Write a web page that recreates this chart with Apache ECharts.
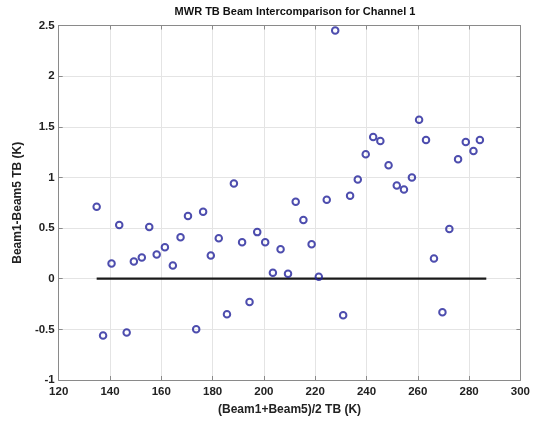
<!DOCTYPE html>
<html>
<head>
<meta charset="utf-8">
<script src="https://cdn.jsdelivr.net/npm/echarts@6/dist/echarts.min.js"></script>
<style>
  html, body { margin: 0; padding: 0; background: #fff; }
  #chart { width: 533px; height: 421px; }
</style>
</head>
<body>
<div id="chart"></div>
<script>
// Mean brightness temperature of the two beams (K)
const meanTB = [
  134.8, 137.3, 140.6, 143.6, 146.5, 149.3, 152.4, 155.3, 158.2, 161.4,
  164.5, 167.5, 170.4, 173.6, 176.3, 179.3, 182.4, 185.6, 188.3, 191.5,
  194.4, 197.4, 200.5, 203.5, 206.5, 209.4, 212.4, 215.4, 218.6, 221.4,
  224.5, 227.8, 230.9, 233.6, 236.6, 239.7, 242.6, 245.4, 248.6, 251.8,
  254.6, 257.7, 260.5, 263.2, 266.3, 269.6, 272.3, 275.7, 278.7, 281.7,
  284.2
];
// Beam1 - Beam5 brightness temperature difference (K)
const diffTB = [
  0.71, -0.56, 0.15, 0.53, -0.53, 0.17, 0.21, 0.51, 0.24, 0.31,
  0.13, 0.41, 0.62, -0.50, 0.66, 0.23, 0.40, -0.35, 0.94, 0.36,
  -0.23, 0.46, 0.36, 0.06, 0.29, 0.05, 0.76, 0.58, 0.34, 0.02,
  0.78, 2.45, -0.36, 0.82, 0.98, 1.23, 1.40, 1.36, 1.12, 0.92,
  0.88, 1.00, 1.57, 1.37, 0.20, -0.33, 0.49, 1.18, 1.35, 1.26,
  1.37
];
// Zero-difference reference line extent (K)
const zeroLineX = [134.8, 286.7];
const zeroLineY = [0, 0];

const xTicks = { min: 120, max: 300, step: 20 };
const yTicks = { min: -1, max: 2.5, step: 0.5 };

const points = meanTB.map((x, i) => [x, diffTB[i]]);
const zeroLine = zeroLineX.map((x, i) => [x, zeroLineY[i]]);

const labelFont = { fontFamily: 'Liberation Sans, Arial, sans-serif', fontWeight: 'bold', color: '#222', fontSize: 11 };
const boxColor = '#8a8a8a';

const chart = echarts.init(document.getElementById('chart'), null, { renderer: 'canvas' });
chart.setOption({
  animation: false,
  backgroundColor: '#fff',
  title: {
    text: 'MWR TB Beam Intercomparison for Channel 1',
    left: 290, top: 1, textAlign: 'center',
    textStyle: Object.assign({}, labelFont, { fontSize: 11, color: '#111' })
  },
  grid: { left: 58.7, right: 11.5, top: 25.5, bottom: 38.3, containLabel: false },
  xAxis: [{
    type: 'value', min: xTicks.min, max: xTicks.max, interval: xTicks.step,
    name: '(Beam1+Beam5)/2 TB (K)', nameLocation: 'middle', nameGap: 24,
    nameTextStyle: Object.assign({}, labelFont, { fontSize: 12 }),
    axisLine: { show: true, onZero: false, lineStyle: { color: boxColor, width: 1 } },
    axisTick: { show: true, inside: true, length: 4, lineStyle: { color: boxColor } },
    axisLabel: Object.assign({ margin: 6 }, labelFont, { fontSize: 11.5 }),
    splitLine: { show: true, lineStyle: { color: '#e4e4e4', width: 1 } }
  }, {
    type: 'value', position: 'top', min: xTicks.min, max: xTicks.max, interval: xTicks.step,
    axisLine: { show: true, onZero: false, lineStyle: { color: boxColor, width: 1 } },
    axisTick: { show: true, inside: true, length: 4, lineStyle: { color: boxColor } },
    axisLabel: { show: false }, splitLine: { show: false }
  }],
  yAxis: [{
    type: 'value', min: yTicks.min, max: yTicks.max, interval: yTicks.step,
    name: 'Beam1-Beam5 TB (K)', nameLocation: 'middle', nameGap: 31, nameRotate: 90,
    nameTextStyle: Object.assign({}, labelFont, { fontSize: 12 }),
    axisLine: { show: true, onZero: false, lineStyle: { color: boxColor, width: 1 } },
    axisTick: { show: true, inside: true, length: 4, lineStyle: { color: boxColor } },
    axisLabel: Object.assign({ margin: 4 }, labelFont, { fontSize: 11.5 }),
    splitLine: { show: true, lineStyle: { color: '#e4e4e4', width: 1 } }
  }, {
    type: 'value', position: 'right', min: yTicks.min, max: yTicks.max, interval: yTicks.step,
    axisLine: { show: true, onZero: false, lineStyle: { color: boxColor, width: 1 } },
    axisTick: { show: true, inside: true, length: 4, lineStyle: { color: boxColor } },
    axisLabel: { show: false }, splitLine: { show: false }
  }],
  series: [{
    type: 'line', data: zeroLine, xAxisIndex: 0, yAxisIndex: 0,
    showSymbol: false, symbol: 'none', silent: true,
    lineStyle: { color: '#1a1a1a', width: 2.2 }, z: 2
  }, {
    type: 'scatter', data: points, xAxisIndex: 0, yAxisIndex: 0,
    symbol: 'circle', symbolSize: 6.5,
    itemStyle: { color: 'rgba(255,255,255,0)', borderColor: '#20209a', borderWidth: 2 },
    z: 3
  }]
});
</script>
</body>
</html>
